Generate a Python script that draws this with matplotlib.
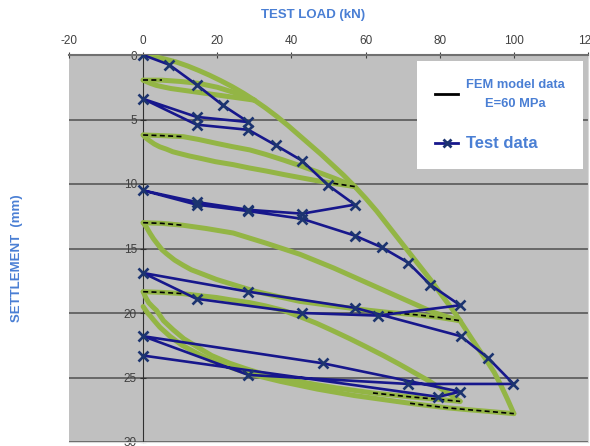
import matplotlib
matplotlib.use('Agg')
import matplotlib.pyplot as plt
from matplotlib.lines import Line2D

plt.rcParams['font.family'] = ['Liberation Sans', 'DejaVu Sans']
plt.rcParams['axes.unicode_minus'] = False

# Test data (load kN, settlement mm), in loading order
test_load = [0, 7, 14.4, 21.5, 28.4, 14.4, 0, 14.4, 28.4, 35.8, 42.9, 49.9, 57.1,
             42.9, 28.4, 14.4, 0, 14.4, 28.4, 42.9, 57.1, 64.3, 71.5, 77.4, 85.5,
             63.4, 42.9, 14.4, 0, 28.4, 57.1, 85.7, 93.1, 99.9, 71.5, 28.4, 0,
             48.5, 85.5, 79.6, 0]
test_settle = [0, 0.75, 2.3, 3.9, 5.2, 4.8, 3.4, 5.4, 5.8, 7.0, 8.2, 10.1, 11.6,
               12.3, 12.0, 11.4, 10.5, 11.6, 12.1, 12.7, 14.0, 14.9, 16.1, 17.8, 19.4,
               20.2, 20.0, 18.9, 16.9, 18.35, 19.6, 21.8, 23.5, 25.5, 25.5, 24.8, 21.8,
               23.9, 26.1, 26.5, 23.3]

# FEM model branches (E = 60 MPa)
outer_x = [0, 3, 6, 9, 12, 15, 18, 21, 24, 27, 30, 33, 36, 39, 42, 45, 48, 51, 54,
           57.1, 60, 63, 66, 69, 72, 75, 78, 81, 83.5, 85.5, 88.2, 90.5, 92.7, 94.7,
           96.5, 98.3, 100]
outer_y = [0, 0.12, 0.32, 0.55, 0.85, 1.2, 1.58, 2.0, 2.45, 2.95, 3.5, 4.1, 4.75,
           5.45, 6.2, 6.95, 7.7, 8.5, 9.3, 10.2, 11.1, 12.1, 13.2, 14.3, 15.4, 16.5,
           17.6, 18.8, 19.75, 20.6, 21.8, 22.8, 23.7, 24.6, 25.6, 26.7, 27.8]

a_up_x = [0, 5, 10, 15, 20, 25, 30]
a_up_y = [1.95, 1.95, 2.05, 2.2, 2.5, 2.95, 3.5]
a_lo_x = [0, 1, 2, 3.5, 5, 7.5, 10, 15, 20, 25, 30]
a_lo_y = [1.95, 2.08, 2.2, 2.35, 2.45, 2.6, 2.7, 2.9, 3.1, 3.3, 3.5]

b_up_x = [0, 5, 10.8, 15, 19.8, 24, 28.8, 33, 37.8, 42, 46.8, 52, 57.1]
b_up_y = [6.2, 6.25, 6.33, 6.55, 6.85, 7.1, 7.36, 7.7, 8.14, 8.55, 9.04, 9.6, 10.2]
b_lo_x = [0, 0.7, 1.5, 3, 4.5, 6.3, 8, 10, 12.5, 15.3, 19.5, 24.3, 28.5, 33.3, 38,
          42.3, 47, 51.3, 57.1]
b_lo_y = [6.2, 6.42, 6.6, 6.9, 7.12, 7.3, 7.5, 7.65, 7.83, 8.0, 8.27, 8.5, 8.75, 9.0,
          9.27, 9.5, 9.75, 9.95, 10.2]

c_up_x = [0, 5, 10.8, 17, 24.3, 33.3, 42.3, 51.3, 60.3, 69.3, 78.3, 85.5]
c_up_y = [13.0, 13.05, 13.2, 13.45, 13.8, 14.6, 15.45, 16.5, 17.65, 18.8, 19.95, 20.6]
c_lo_x = [0, 0.5, 1, 1.8, 2.8, 4, 5.1, 6.3, 8.5, 10.8, 13, 15.3, 19.8, 24.3, 30, 36,
          42.3, 50, 58, 66, 74, 80, 85.5]
c_lo_y = [13.0, 13.2, 13.4, 13.8, 14.25, 14.7, 15.1, 15.4, 15.9, 16.3, 16.65, 16.9,
          17.4, 17.8, 18.3, 18.7, 19.1, 19.4, 19.7, 19.95, 20.15, 20.35, 20.6]

d_up_x = [0, 5, 10.8, 15, 19.8, 24, 28.8, 33, 37.8, 42, 46.8, 51, 55.8, 60, 64.8, 69,
          73, 77, 80, 83, 85.5]
d_up_y = [18.35, 18.4, 18.5, 18.65, 18.8, 19.0, 19.2, 19.45, 19.8, 20.25, 20.8, 21.35,
          22.0, 22.6, 23.3, 23.95, 24.6, 25.25, 25.8, 26.35, 26.85]
d_lo_x = [0, 0.7, 1.5, 2.5, 3.6, 5.5, 8.1, 11, 14.4, 18.5, 23.4, 27.5, 32, 37, 42,
          47, 52, 57, 62, 67, 72, 76, 80, 85.5]
d_lo_y = [18.35, 18.8, 19.2, 19.5, 19.8, 20.6, 21.3, 22.0, 22.6, 23.3, 23.9, 24.3,
          24.7, 25.0, 25.3, 25.57, 25.8, 26.0, 26.2, 26.35, 26.5, 26.6, 26.7, 26.85]

e_lo_x = [0, 0.6, 1.2, 2, 2.7, 4.5, 7.2, 10.5, 14.4, 18.5, 23.4, 27.5, 32, 37, 42,
          47, 52, 57, 62, 67, 72, 77, 82, 87, 92, 96, 100]
e_lo_y = [19.5, 19.75, 20.0, 20.25, 20.5, 21.1, 21.8, 22.5, 23.1, 23.7, 24.2, 24.6,
          24.95, 25.3, 25.6, 25.9, 26.15, 26.4, 26.6, 26.8, 27.0, 27.18, 27.35, 27.48,
          27.6, 27.7, 27.8]

green = '#93b545'
navy = '#17178c'
blue_txt = '#4a7fd4'

fig = plt.figure(figsize=(5.9, 4.46), dpi=100)
ax = fig.add_axes([69 / 590, 4 / 446, 519 / 590, 387 / 446])
ax.set_facecolor('#c0c0c0')

branches = [(outer_x, outer_y), (a_up_x, a_up_y), (a_lo_x, a_lo_y),
            (b_up_x, b_up_y), (b_lo_x, b_lo_y), (c_up_x, c_up_y), (c_lo_x, c_lo_y),
            (d_up_x, d_up_y), (d_lo_x, d_lo_y), (e_lo_x, e_lo_y)]
for bx, by in branches:
    ax.plot(bx, by, color=green, lw=3.6, solid_capstyle='round',
            solid_joinstyle='round', zorder=3)

# black dashed FEM line showing through on the flat parts
dash_parts = [(a_up_x[:2], a_up_y[:2]), (b_up_x[:3], b_up_y[:3]),
              (c_up_x[:3], c_up_y[:3]), (d_up_x[:3], d_up_y[:3]),
              (b_lo_x[-2:], b_lo_y[-2:]), (c_lo_x[-4:], c_lo_y[-4:]),
              (d_lo_x[-6:], d_lo_y[-6:]), (e_lo_x[-7:], e_lo_y[-7:])]
for bx, by in dash_parts:
    ax.plot(bx, by, color='black', lw=1.2, ls=(0, (3, 2)), zorder=4)

ax.plot(test_load, test_settle, color=navy, lw=1.9, marker='x', ms=6.5, mew=1.9,
        mec='#1c3470', zorder=5)

ax.set_xlim(-20, 120)
ax.set_ylim(30, 0)
ax.xaxis.tick_top()
ax.set_xticks(range(-20, 121, 20))
ax.set_yticks(range(0, 31, 5))
ax.spines['left'].set_position(('data', 0))
ax.spines['left'].set_color('#303030')
ax.spines['top'].set_color('#707070')
ax.spines['top'].set_linewidth(1.5)
ax.spines['right'].set_color('#d8d8d8')
ax.spines['bottom'].set_color('#d8d8d8')
ax.tick_params(axis='x', direction='inout', length=5, labelsize=8.5,
               labelcolor='#404040', color='#404040', pad=3)
ax.tick_params(axis='y', direction='inout', length=5, labelsize=8.5,
               labelcolor='#404040', color='#303030', pad=2)
ax.grid(axis='y', color='#606060', lw=1.3)
ax.set_axisbelow(True)

fig.text(313 / 590, 1 - 15 / 446, 'TEST LOAD (kN)', ha='center', va='center',
         color=blue_txt, fontsize=9.5, fontweight='bold')
fig.text(17 / 590, 1 - 258 / 446, 'SETTLEMENT  (mm)', ha='center', va='center',
         rotation=90, color=blue_txt, fontsize=9.5, fontweight='bold')

handles = [Line2D([], [], color='black', lw=2),
           Line2D([], [], color=navy, lw=2, marker='x', ms=6, mew=2, mec='#1c3470')]
leg = ax.legend(handles, ['FEM model data\nE=60 MPa', 'Test data'], loc='upper right',
                bbox_to_anchor=(0.99, 0.985), borderaxespad=0, frameon=True,
                facecolor='white', edgecolor='white', framealpha=1, fancybox=False,
                borderpad=1.3, labelspacing=1.85, handlelength=1.6, handletextpad=0.6)
leg.get_frame().set_linewidth(0)
texts = leg.get_texts()
texts[0].set_fontsize(9.3)
texts[0].set_multialignment('center')
texts[0].set_linespacing(1.8)
texts[1].set_fontsize(12)
for t in texts:
    t.set_color(blue_txt)
    t.set_fontweight('bold')
leg.set_zorder(10)

fig.savefig('out.png', dpi=100)
